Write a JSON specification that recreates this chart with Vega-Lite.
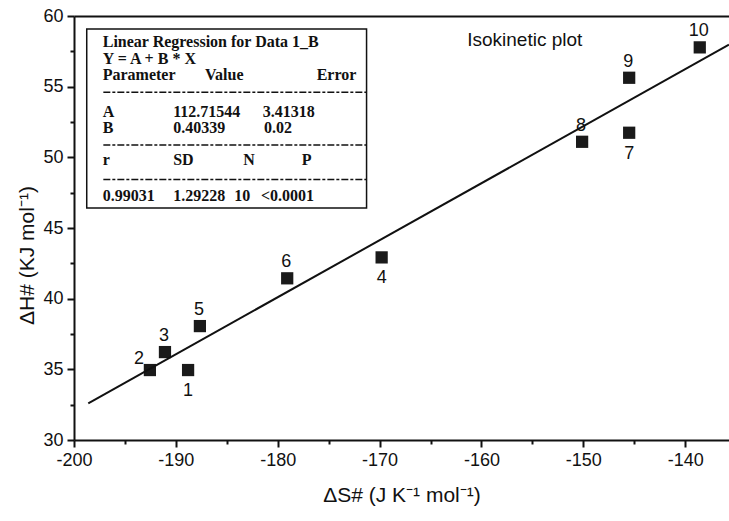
{
  "$schema": "https://vega.github.io/schema/vega-lite/v6.json",
  "width": 655,
  "height": 424,
  "autosize": {"type": "none"},
  "padding": {"left": 74, "top": 16, "right": 0, "bottom": 81},
  "background": "white",
  "config": {
    "view": {"stroke": null},
    "axis": {
      "grid": false,
      "domainColor": "#111111",
      "domainWidth": 2,
      "tickColor": "#111111",
      "tickWidth": 2,
      "labelFont": "Liberation Sans",
      "labelFontSize": 18,
      "labelColor": "#111111",
      "labelFlush": false,
      "labelOverlap": false,
      "titleFont": "Liberation Sans",
      "titleFontSize": 21,
      "titleFontWeight": "normal",
      "titleColor": "#111111"
    }
  },
  "datasets": {
    "box": [{"x": -198.75, "x2": -171.28, "y": 46.41, "y2": 59.08}],
    "points": [
      {"n": "1", "x": -188.8, "y": 34.95, "pos": "below"},
      {"n": "2", "x": -192.55, "y": 34.95, "pos": "left"},
      {"n": "3", "x": -191.07, "y": 36.22, "pos": "above"},
      {"n": "4", "x": -169.8, "y": 42.92, "pos": "below"},
      {"n": "5", "x": -187.64, "y": 38.06, "pos": "above"},
      {"n": "6", "x": -179.07, "y": 41.44, "pos": "above"},
      {"n": "7", "x": -145.5, "y": 51.74, "pos": "below"},
      {"n": "8", "x": -150.12, "y": 51.1, "pos": "above"},
      {"n": "9", "x": -145.5, "y": 55.63, "pos": "above"},
      {"n": "10", "x": -138.57, "y": 57.78, "pos": "above"}
    ],
    "fit": [{"x": -198.6, "y": 32.6, "x2": -135.7, "y2": 57.97}],
    "dashes": [
      {"x": -197.12, "x2": -171.28, "y": 54.6},
      {"x": -197.12, "x2": -171.28, "y": 50.87},
      {"x": -197.12, "x2": -171.28, "y": 48.44}
    ],
    "table": [
      {"t": "Linear Regression for Data 1_B", "x": -197.18, "y": 58.18},
      {"t": "Y = A + B * X", "x": -197.18, "y": 56.96},
      {"t": "Parameter", "x": -197.18, "y": 55.82},
      {"t": "Value", "x": -187.14, "y": 55.82},
      {"t": "Error", "x": -176.18, "y": 55.82},
      {"t": "A", "x": -197.18, "y": 53.23},
      {"t": "112.71544", "x": -190.26, "y": 53.23},
      {"t": "3.41318", "x": -181.48, "y": 53.23},
      {"t": "B", "x": -197.18, "y": 52.09},
      {"t": "0.40339", "x": -190.26, "y": 52.09},
      {"t": "0.02", "x": -181.35, "y": 52.09},
      {"t": "r", "x": -197.18, "y": 49.81},
      {"t": "SD", "x": -190.26, "y": 49.81},
      {"t": "N", "x": -183.39, "y": 49.81},
      {"t": "P", "x": -177.65, "y": 49.81},
      {"t": "0.99031", "x": -197.18, "y": 47.28},
      {"t": "1.29228", "x": -190.26, "y": 47.28},
      {"t": "10", "x": -184.27, "y": 47.28},
      {"t": "<0.0001", "x": -181.65, "y": 47.28}
    ],
    "note": [{"t": "Isokinetic plot", "x": -161.4, "y": 58.3}]
  },
  "layer": [
    {
      "data": {"name": "box"},
      "mark": {"type": "rect", "fill": null, "fillOpacity": 0, "stroke": "#111111", "strokeWidth": 1.5},
      "encoding": {
        "x": {
          "field": "x", "type": "quantitative",
          "scale": {"domain": [-200, -135.7], "nice": false, "zero": false},
          "axis": {
            "orient": "bottom",
            "values": [-200, -190, -180, -170, -160, -150, -140],
            "labelExpr": "'' + datum.value",
            "tickSize": 7,
            "labelPadding": 4,
            "title": "ΔS# (J K⁻¹ mol⁻¹)",
            "titlePadding": 15
          }
        },
        "x2": {"field": "x2"},
        "y": {
          "field": "y", "type": "quantitative",
          "scale": {"domain": [30, 60], "nice": false, "zero": false},
          "axis": {
            "orient": "left",
            "values": [30, 35, 40, 45, 50, 55, 60],
            "tickSize": 7,
            "labelPadding": 4,
            "title": "ΔH# (KJ mol⁻¹)",
            "titlePadding": 5,
            "titleY": 239
          }
        },
        "y2": {"field": "y2"}
      }
    },
    {
      "data": {"name": "points"},
      "mark": {"type": "square", "filled": true, "color": "#1a1a1a", "size": 150, "opacity": 1},
      "encoding": {
        "x": {
          "field": "x", "type": "quantitative",
          "scale": {"domain": [-200, -135.7], "nice": false, "zero": false},
          "axis": {"orient": "bottom", "values": [-195, -185, -175, -165, -155, -145], "tickSize": 4, "labels": false, "domain": false, "title": null}
        },
        "y": {
          "field": "y", "type": "quantitative",
          "scale": {"domain": [30, 60], "nice": false, "zero": false},
          "axis": {"orient": "left", "values": [32.5, 37.5, 42.5, 47.5, 52.5, 57.5], "tickSize": 4, "labels": false, "domain": false, "title": null}
        }
      }
    },
    {
      "data": {"name": "fit"},
      "mark": {"type": "rule", "color": "#111111", "strokeWidth": 2},
      "encoding": {
        "x": {
          "field": "x", "type": "quantitative",
          "scale": {"domain": [-200, -135.7], "nice": false, "zero": false},
          "axis": {"orient": "top", "labels": false, "ticks": false, "domain": true, "title": null}
        },
        "y": {
          "field": "y", "type": "quantitative",
          "scale": {"domain": [30, 60], "nice": false, "zero": false},
          "axis": null
        },
        "x2": {"field": "x2"},
        "y2": {"field": "y2"}
      }
    },
    {
      "data": {"name": "dashes"},
      "mark": {"type": "rule", "color": "#111111", "strokeWidth": 1.5, "strokeDash": [7, 2, 3, 2]},
      "encoding": {
        "x": {"field": "x", "type": "quantitative", "scale": {"domain": [-200, -135.7], "nice": false, "zero": false}, "axis": null},
        "x2": {"field": "x2"},
        "y": {"field": "y", "type": "quantitative", "scale": {"domain": [30, 60], "nice": false, "zero": false}, "axis": null}
      }
    },
    {
      "data": {"name": "table"},
      "mark": {"type": "text", "align": "left", "baseline": "middle", "font": "Liberation Serif", "fontWeight": "bold", "fontSize": 16, "color": "#111111"},
      "encoding": {
        "x": {"field": "x", "type": "quantitative", "scale": {"domain": [-200, -135.7], "nice": false, "zero": false}, "axis": null},
        "y": {"field": "y", "type": "quantitative", "scale": {"domain": [30, 60], "nice": false, "zero": false}, "axis": null},
        "text": {"field": "t"}
      }
    },
    {
      "data": {"name": "note"},
      "mark": {"type": "text", "align": "left", "baseline": "middle", "font": "Liberation Sans", "fontSize": 19, "color": "#111111"},
      "encoding": {
        "x": {"field": "x", "type": "quantitative", "scale": {"domain": [-200, -135.7], "nice": false, "zero": false}, "axis": null},
        "y": {"field": "y", "type": "quantitative", "scale": {"domain": [30, 60], "nice": false, "zero": false}, "axis": null},
        "text": {"field": "t"}
      }
    },
    {
      "data": {"name": "points"},
      "transform": [{"filter": "datum.pos === 'above'"}],
      "mark": {"type": "text", "align": "center", "baseline": "middle", "dy": -16, "dx": -1, "font": "Liberation Sans", "fontSize": 18, "color": "#111111"},
      "encoding": {
        "x": {"field": "x", "type": "quantitative", "scale": {"domain": [-200, -135.7], "nice": false, "zero": false}, "axis": null},
        "y": {"field": "y", "type": "quantitative", "scale": {"domain": [30, 60], "nice": false, "zero": false}, "axis": null},
        "text": {"field": "n"}
      }
    },
    {
      "data": {"name": "points"},
      "transform": [{"filter": "datum.pos === 'below'"}],
      "mark": {"type": "text", "align": "center", "baseline": "middle", "dy": 21, "font": "Liberation Sans", "fontSize": 18, "color": "#111111"},
      "encoding": {
        "x": {"field": "x", "type": "quantitative", "scale": {"domain": [-200, -135.7], "nice": false, "zero": false}, "axis": null},
        "y": {"field": "y", "type": "quantitative", "scale": {"domain": [30, 60], "nice": false, "zero": false}, "axis": null},
        "text": {"field": "n"}
      }
    },
    {
      "data": {"name": "points"},
      "transform": [{"filter": "datum.pos === 'left'"}],
      "mark": {"type": "text", "align": "center", "baseline": "middle", "dx": -11, "dy": -11, "font": "Liberation Sans", "fontSize": 18, "color": "#111111"},
      "encoding": {
        "x": {"field": "x", "type": "quantitative", "scale": {"domain": [-200, -135.7], "nice": false, "zero": false}, "axis": null},
        "y": {"field": "y", "type": "quantitative", "scale": {"domain": [30, 60], "nice": false, "zero": false}, "axis": null},
        "text": {"field": "n"}
      }
    }
  ],
  "resolve": {"axis": {"x": "independent", "y": "independent"}}
}
